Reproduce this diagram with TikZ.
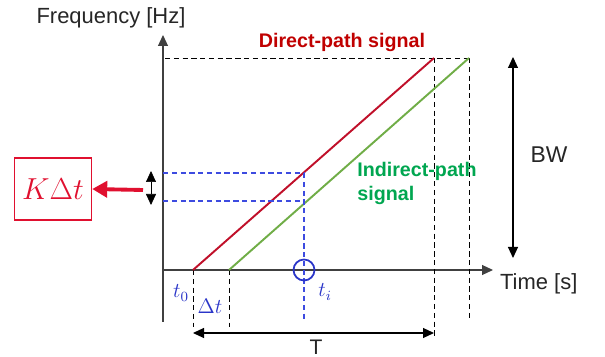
\documentclass[tikz,border=0pt]{standalone}
\usepackage{fontspec}
\setmainfont{Liberation Sans}
\usetikzlibrary{arrows.meta, positioning, calc}
\definecolor{dpred}{HTML}{C00000}
\definecolor{dpline}{HTML}{C0102A}
\definecolor{ipgreen}{HTML}{00A650}
\definecolor{ipline}{HTML}{70AD47}
\definecolor{kred}{HTML}{E0102F}
\definecolor{mkblue}{HTML}{2A35C8}
\definecolor{gdblue}{HTML}{3D4BE0}
\tikzset{
  axis/.style={-{Triangle[length=2.2mm, width=2mm]}, draw=black!75, semithick},
  guide/.style={draw=black, densely dashed, thin},
  bguide/.style={draw=gdblue, densely dashed, line width=0.6pt},
  span/.style={{Triangle[length=2.2mm, width=2mm]}-{Triangle[length=2.2mm, width=2mm]}, draw=black, semithick},
  chirp/.style={line width=1.1pt},
  lbl/.style={font=\fontsize{12.5}{14}\selectfont, text=black!85, inner sep=1pt},
  tlbl/.style={text=mkblue, inner sep=1pt, font=\large},
}
\begin{document}
\begin{tikzpicture}[x=0.02cm, y=-0.02cm]
  \useasboundingbox (0,0) rectangle (605,357);
  % axes
  \coordinate (ybot) at (163,322);
  \coordinate (ytop) at (163,35);
  \coordinate (xleft) at (163,270);
  \coordinate (xright) at (493,270);
  \draw[axis] (ybot) -- (ytop);
  \draw[axis] (xleft) -- (xright);
  \node[lbl, anchor=south] (freq) at (111,30) {Frequency [Hz]};
  \node[lbl, anchor=west] (time) at (498,284) {Time [s]};
  % chirp end points
  \coordinate (t0) at (193,270);
  \coordinate (t1) at (229,270);
  \coordinate (dtop) at (434,58);
  \coordinate (itop) at (469,58);
  \coordinate (fmax) at (165,58);
  \draw[guide] (fmax) -- (itop);
  \draw[guide] (t0) -- (193,327);
  \draw[guide] (t1) -- (229,327);
  \draw[guide] (dtop) -- (434,337);
  \draw[guide] (itop) -- (469,320);
  % signals
  \draw[chirp, dpline] (t0) -- (dtop);
  \draw[chirp, ipline] (t1) -- (itop);
  \node[font=\bfseries\fontsize{11.2}{13}\selectfont, text=dpred] (direct) at (342,42) {Direct-path signal};
  \node[font=\bfseries\fontsize{11.2}{13.5}\selectfont, text=ipgreen, align=left, anchor=north west, inner sep=0pt] (indirect) at (357,162) {Indirect-path\\signal};
  % sample instant
  \coordinate (fa) at (163,173);
  \coordinate (fb) at (163,201);
  \coordinate (ra) at (304,173);
  \coordinate (rb) at (304,201);
  \draw[bguide] (fa) -- (ra);
  \draw[bguide] (fb) -- (rb);
  \draw[bguide] (ra) -- (304,322);
  \node[circle, draw=mkblue, line width=1pt, minimum size=0.42cm, inner sep=0pt] (ti) at (304,270) {};
  \node[tlbl] (tilbl) at (325,292) {$t_i$};
  \node[tlbl] (t0lbl) at (181,293) {$t_0$};
  \node[tlbl] (dtlbl) at (210,306) {$\Delta t$};
  % spans
  \coordinate (ka) at (151,171);
  \coordinate (kb) at (151,205);
  \draw[span, thin] (ka) -- (kb);
  \node[draw=kred, thick, minimum width=1.54cm, minimum height=1.24cm, text=kred, font=\LARGE] (kdt) at (53,189) {$K\Delta t$};
  \draw[-{Triangle[length=3mm, width=3.2mm]}, draw=kred, line width=2.2pt] (143,190) -- (kdt.east);
  \coordinate (ta) at (193,333);
  \coordinate (tb) at (434,333);
  \draw[span] (ta) -- (tb);
  \node[lbl, font=\fontsize{12}{13}\selectfont, anchor=south, inner sep=0pt] (tlen) at (316,355) {T};
  \coordinate (bwa) at (513,57);
  \coordinate (bwb) at (513,258);
  \draw[span] (bwa) -- (bwb);
  \node[lbl, font=\fontsize{13}{14}\selectfont] (bw) at (549,155) {BW};
\end{tikzpicture}
\end{document}
